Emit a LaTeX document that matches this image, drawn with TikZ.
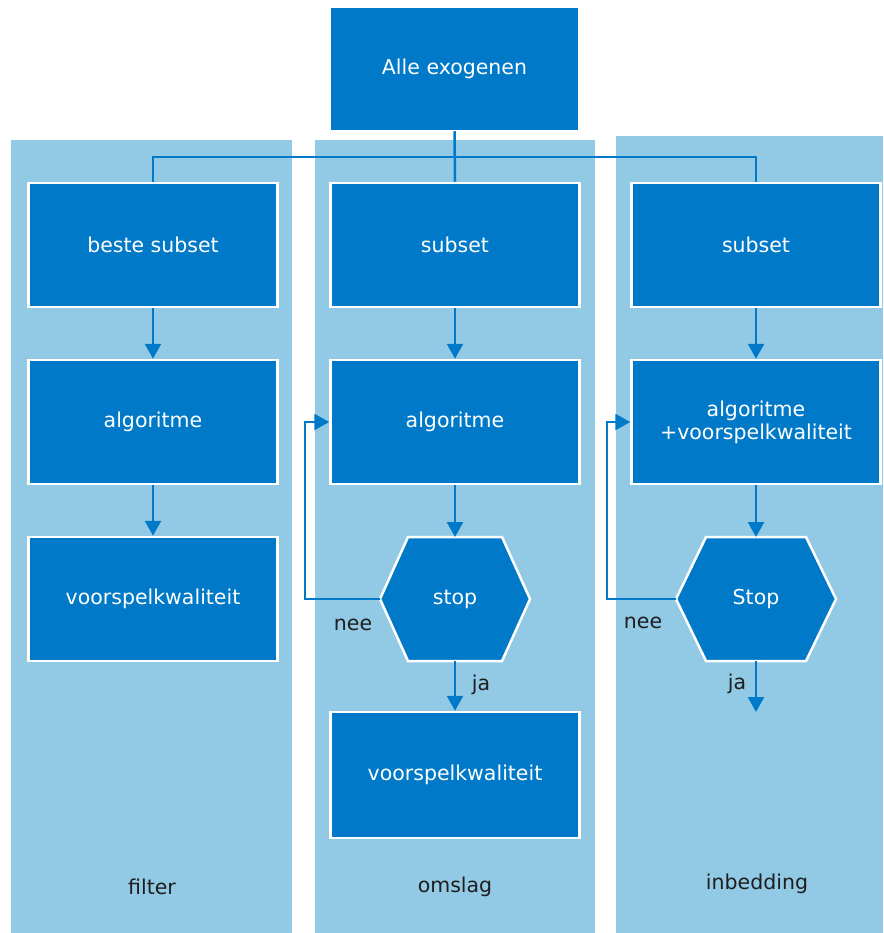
\documentclass[tikz,border=0pt]{standalone}
\usepackage{fontspec}
\setmainfont{DejaVu Sans}
\usetikzlibrary{arrows.meta}
\definecolor{dblue}{RGB}{0,122,200}
\definecolor{lblue}{RGB}{146,202,230}
\definecolor{labtext}{RGB}{30,30,30}
\begin{document}
\begin{tikzpicture}[x=1pt,y=-1pt,
  box/.style={draw=white,line width=2.5pt,fill=dblue,minimum width=249pt,minimum height=124pt,inner sep=0pt,text=white,font=\fontsize{20.5}{23}\selectfont,align=center},
  hexbox/.style={draw=white,line width=2.5pt,fill=dblue,line join=miter},
  hextext/.style={text=white,font=\fontsize{20.5}{23}\selectfont,inner sep=0pt},
  conn/.style={draw=dblue,line width=2.5pt},
  arr/.style={conn,-{Triangle[width=16pt,length=15pt]}},
  lab/.style={text=labtext,font=\fontsize{20.5}{23}\selectfont,inner sep=0pt},
  colbg/.style={fill=lblue}]
\useasboundingbox (0,0) rectangle (883,933);
\fill[white] (0,0) rectangle (883,933);
% background columns
\fill[colbg] (11,140) rectangle (292,933);
\fill[colbg] (315,140) rectangle (595,933);
\fill[colbg] (616,136) rectangle (883,933);

% top box
\node[box,draw=none,minimum width=247pt,minimum height=122pt] (top) at (454.5,69) {Alle exogenen};

% column 1: filter
\node[box] (s1) at (153,245) {beste subset};
\node[box] (a1) at (153,422) {algoritme};
\node[box] (v1) at (153,599) {voorspelkwaliteit};

% column 2: omslag
\node[box] (s2) at (455,245) {subset};
\node[box] (a2) at (455,422) {algoritme};
\draw[hexbox] (380,599) coordinate (h2w) -- (408,537) -- (502,537) -- (530,599) -- (502,661) -- (408,661) -- cycle;
\coordinate (h2n) at (455,537);
\coordinate (h2s) at (455,661);
\node[hextext] (hex2) at (455,599) {stop};
\node[box,minimum height=126pt] (v2) at (455,775) {voorspelkwaliteit};

% column 3: inbedding
\node[box] (s3) at (756,245) {subset};
\node[box] (a3) at (756,422) {algoritme\\+voorspelkwaliteit};
\draw[hexbox] (676,599) coordinate (h3w) -- (706,537) -- (806,537) -- (836,599) -- (806,661) -- (706,661) -- cycle;
\coordinate (h3n) at (756,537);
\coordinate (h3s) at (756,661);
\node[hextext] (hex3) at (756,599) {Stop};
\coordinate (end3) at (756,712);

% connectors from top
\coordinate (j) at (455,157);
\draw[conn] (top.south) -- (s2.north);
\draw[conn] (s1.north) |- (j) -| (s3.north);

% column 1 arrows
\draw[arr] (s1.south) -- (a1.north);
\draw[arr] (a1.south) -- (v1.north);

% column 2 arrows
\draw[arr] (s2.south) -- (a2.north);
\draw[arr] (a2.south) -- (h2n);
\draw[arr] (h2s) -- (v2.north);
\draw[arr] (h2w) -- ++(-75,0) |- (a2.west);

% column 3 arrows
\draw[arr] (s3.south) -- (a3.north);
\draw[arr] (a3.south) -- (h3n);
\draw[arr] (h3s) -- (end3);
\draw[arr] (h3w) -- ++(-69,0) |- (a3.west);

% labels
\node[lab] (ja2) at (481,685) {ja};
\node[lab] (nee2) at (353,625) {nee};
\node[lab] (nee3) at (643,623) {nee};
\node[lab] (ja3) at (737,684) {ja};
\node[lab] (lf) at (152,887) {filter};
\node[lab] (lo) at (455,887) {omslag};
\node[lab] (li) at (757,884) {inbedding};
\end{tikzpicture}
\end{document}
